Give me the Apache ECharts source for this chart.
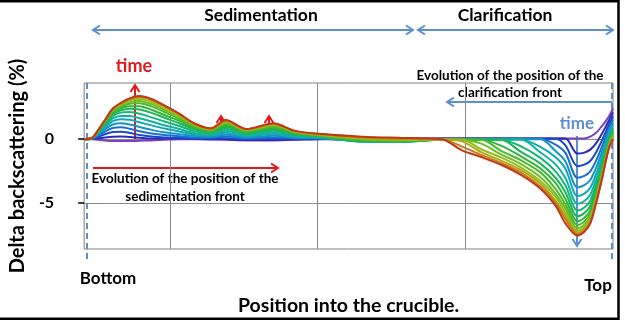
<!DOCTYPE html>
<html>
<head>
<meta charset="utf-8">
<script src="https://cdn.jsdelivr.net/npm/echarts@6/dist/echarts.min.js"></script>
<style>
  html, body { margin: 0; padding: 0; background: #fff; }
  #chart { width: 625px; height: 324px; }
</style>
</head>
<body>
<div id="chart"></div>
<script>
// position along the crucible (mm), shared by every scan
const position = [4.2, 4.74, 5.14, 5.61, 6.14, 6.68, 7.28, 7.95, 8.76, 9.63, 10.64, 11.64,
  12.78, 13.79, 15.19, 17.0, 18.48, 20.36, 23.04, 25.72, 28.4,
  29.74, 31.08, 32.42, 33.77, 35.11, 36.11, 36.78,
  37.59, 38.06, 38.46, 38.86, 39.2, 39.46, 39.73, 40.0];

// delta backscattering (%) scans, first to last
const scan01 = [0, 0, -0.05, -0.1, -0.15, -0.15, -0.15, -0.12, -0.1, -0.05, 0, 0,
  -0.02, -0.05, -0.1, -0.1, -0.05, 0, 0, 0.05, 0.05,
  0.05, 0.05, 0.05, 0.05, 0.05, 0.05, 0.05,
  0.05, 0.05, 0.2, 0.5, 0.96, 1.34, 1.8, 2.4];
const scan02 = [0, 0.02, 0.07, 0.14, 0.2, 0.22, 0.17, 0.11, 0.05, 0.05, 0.05, 0.03,
  0, -0.01, -0.07, -0.06, -0.03, 0.02, -0.05, -0.02, 0.05,
  0.05, 0.05, 0.05, 0.05, 0.05, 0.05, 0.05,
  -1.13, -1.05, -0.82, -0.31, 0.33, 0.88, 1.48, 2.1];
const scan03 = [0, 0.04, 0.17, 0.39, 0.56, 0.59, 0.49, 0.33, 0.21, 0.14, 0.11, 0.06,
  0.06, 0.08, -0.01, 0.03, 0.01, 0.03, -0.08, -0.05, 0.04,
  0.04, 0.04, 0.04, 0.04, 0.04, 0.04, -0.49,
  -2.11, -1.99, -1.71, -1.02, -0.23, 0.45, 1.15, 1.8];
const scan04 = [0, 0.05, 0.27, 0.59, 0.87, 0.94, 0.82, 0.62, 0.44, 0.32, 0.23, 0.13,
  0.13, 0.21, 0.07, 0.14, 0.07, 0.06, -0.12, -0.1, 0.02,
  0.02, 0.02, 0.02, 0.02, 0.02, -0.42, -1.07,
  -3.02, -2.87, -2.52, -1.67, -0.74, 0.07, 0.88, 1.55];
const scan05 = [0, 0.06, 0.35, 0.78, 1.15, 1.25, 1.15, 0.95, 0.73, 0.54, 0.39, 0.24,
  0.2, 0.35, 0.15, 0.26, 0.13, 0.08, -0.15, -0.15, 0,
  0, 0, 0, 0, 0, -0.93, -1.74,
  -3.78, -3.6, -3.2, -2.23, -1.18, -0.27, 0.63, 1.3];
const scan06 = [0, 0.07, 0.44, 0.94, 1.41, 1.57, 1.52, 1.32, 1.08, 0.84, 0.61, 0.37,
  0.29, 0.51, 0.24, 0.4, 0.21, 0.11, -0.18, -0.2, -0.02,
  -0.02, -0.02, -0.02, -0.02, -0.62, -1.42, -2.31,
  -4.45, -4.26, -3.8, -2.72, -1.57, -0.56, 0.42, 1.1];
const scan07 = [0, 0.08, 0.49, 1.06, 1.63, 1.82, 1.82, 1.64, 1.38, 1.09, 0.8, 0.49,
  0.37, 0.66, 0.33, 0.53, 0.27, 0.14, -0.2, -0.22, -0.03,
  -0.03, -0.03, -0.03, -0.03, -1.06, -1.97, -3.04,
  -5.06, -4.84, -4.35, -3.16, -1.92, -0.84, 0.21, 0.9];
const scan08 = [0, 0.09, 0.55, 1.17, 1.82, 2.08, 2.12, 1.99, 1.71, 1.38, 1.03, 0.63,
  0.46, 0.82, 0.41, 0.66, 0.35, 0.17, -0.18, -0.2, -0.04,
  -0.04, -0.04, -0.04, -0.56, -1.48, -2.52, -3.63,
  -5.59, -5.35, -4.82, -3.54, -2.22, -1.06, 0.04, 0.75];
const scan09 = [0, 0.1, 0.59, 1.25, 1.97, 2.26, 2.39, 2.32, 2.06, 1.68, 1.25, 0.78,
  0.54, 0.95, 0.49, 0.78, 0.41, 0.2, -0.15, -0.18, -0.05,
  -0.05, -0.05, -0.05, -1.0, -1.93, -3.02, -4.17,
  -6.04, -5.79, -5.23, -3.87, -2.48, -1.26, -0.11, 0.6];
const scan10 = [0, 0.1, 0.63, 1.33, 2.08, 2.42, 2.58, 2.58, 2.31, 1.89, 1.43, 0.9,
  0.61, 1.07, 0.56, 0.88, 0.46, 0.23, -0.1, -0.15, -0.05,
  -0.05, -0.05, -0.51, -1.35, -2.31, -3.43, -4.69,
  -6.42, -6.15, -5.57, -4.15, -2.7, -1.43, -0.24, 0.48];
const scan11 = [0, 0.1, 0.64, 1.39, 2.18, 2.53, 2.77, 2.81, 2.57, 2.13, 1.6, 1.01,
  0.67, 1.18, 0.62, 0.98, 0.51, 0.26, -0.05, -0.12, -0.05,
  -0.05, -0.05, -0.91, -1.65, -2.62, -3.9, -5.11,
  -6.72, -6.44, -5.84, -4.37, -2.88, -1.57, -0.33, 0.38];
const scan12 = [0, 0.1, 0.67, 1.42, 2.25, 2.63, 2.9, 3.0, 2.75, 2.29, 1.74, 1.09,
  0.73, 1.29, 0.69, 1.08, 0.56, 0.29, 0, -0.08, -0.04,
  -0.04, -0.35, -1.19, -1.95, -3.0, -4.26, -5.44,
  -6.98, -6.7, -6.09, -4.57, -3.04, -1.69, -0.44, 0.28];
const scan13 = [0, 0.1, 0.67, 1.44, 2.3, 2.72, 3.04, 3.14, 2.91, 2.43, 1.82, 1.15,
  0.77, 1.35, 0.72, 1.13, 0.59, 0.32, 0.05, -0.04, -0.03,
  -0.03, -0.79, -1.43, -2.22, -3.3, -4.52, -5.74,
  -7.17, -6.89, -6.25, -4.71, -3.15, -1.79, -0.52, 0.2];
const scan14 = [0, 0.1, 0.69, 1.44, 2.33, 2.76, 3.12, 3.28, 3.05, 2.56, 1.94, 1.21,
  0.8, 1.41, 0.75, 1.18, 0.61, 0.35, 0.1, 0, -0.02,
  -0.15, -1.02, -1.68, -2.42, -3.51, -4.83, -6.0,
  -7.32, -7.03, -6.39, -4.82, -3.25, -1.87, -0.59, 0.12];
const scan15 = [0, 0.1, 0.7, 1.47, 2.37, 2.81, 3.17, 3.34, 3.11, 2.61, 1.97, 1.24,
  0.82, 1.46, 0.78, 1.21, 0.63, 0.38, 0.15, 0.05, -0.01,
  -0.56, -1.23, -1.86, -2.61, -3.73, -4.99, -6.26,
  -7.45, -7.16, -6.51, -4.93, -3.34, -1.94, -0.64, 0.06];
const scan16 = [0, 0.1, 0.7, 1.5, 2.4, 2.85, 3.2, 3.38, 3.15, 2.65, 2.0, 1.25,
  0.85, 1.5, 0.8, 1.25, 0.65, 0.4, 0.2, 0.1, 0,
  -0.85, -1.4, -2.0, -2.8, -3.9, -5.2, -6.6,
  -7.55, -7.25, -6.6, -5.0, -3.4, -2.0, -0.7, 0];

const scans = [scan01, scan02, scan03, scan04, scan05, scan06, scan07, scan08,
  scan09, scan10, scan11, scan12, scan13, scan14, scan15, scan16];

const yTicks = [0, -5];
const xGridLines = [10, 20, 30];

const scanColors = ['#7b3fbf', '#2a2ab8', '#1c47c8', '#1a6fd0', '#1592c8', '#10a8b8', '#12b39a', '#16b577',
  '#1fb455', '#2fb53a', '#4cb82c', '#6cbc22', '#92bd1c', '#b0a818', '#c87a14', '#c0391a'];

const BLUE = '#5b8fd0';
const RED = '#e3191c';
const FONT = 'Lato, "Open Sans", sans-serif';

const chart = echarts.init(document.getElementById('chart'));

function arrow(x1, y1, x2, y2, color, both) {
  const out = [{type: 'line', shape: {x1, y1, x2, y2}, style: {stroke: color, lineWidth: 2}}];
  const head = (tx, ty, fx, fy) => {
    const len = Math.hypot(tx - fx, ty - fy);
    const dx = (tx - fx) / len, dy = (ty - fy) / len;
    const bx = tx - 7 * dx, by = ty - 7 * dy;
    return {
      type: 'polyline',
      shape: {points: [[bx - 4.5 * dy, by + 4.5 * dx], [tx, ty], [bx + 4.5 * dy, by - 4.5 * dx]]},
      style: {stroke: color, lineWidth: 2, fill: null}
    };
  };
  out.push(head(x2, y2, x1, y1));
  if (both) out.push(head(x1, y1, x2, y2));
  return out;
}

function label(x, y, text, size, color) {
  return {
    type: 'text', x, y,
    style: {text, font: 'bold ' + size + 'px ' + FONT, fill: color || '#000', align: 'center', verticalAlign: 'middle'}
  };
}

const graphics = [
  {type: 'rect', shape: {x: -5, y: 1.2, width: 623.5, height: 317.6}, style: {stroke: '#000', lineWidth: 2.5, fill: null}},
  {type: 'line', shape: {x1: 87, y1: 83, x2: 87, y2: 260}, style: {stroke: BLUE, lineWidth: 2, lineDash: [6, 4]}},
  {type: 'line', shape: {x1: 612, y1: 83, x2: 612, y2: 260}, style: {stroke: BLUE, lineWidth: 2, lineDash: [6, 4]}},
  ...arrow(93, 30, 413, 30, BLUE, true),
  ...arrow(418, 30, 613, 30, BLUE, true),
  ...arrow(612, 102, 447, 102, BLUE),
  ...arrow(577, 136, 577, 246, BLUE),
  ...arrow(135, 139, 135, 85, RED),
  ...arrow(221, 139, 221, 116, RED),
  ...arrow(269, 139, 269, 116, RED),
  ...arrow(93, 168, 278, 168, RED),
  label(261, 15, 'Sedimentation', 17.5),
  label(505, 15, 'Clarification', 17.5),
  label(134, 66, 'time', 18, RED),
  label(577, 124, 'time', 17, BLUE),
  label(510, 76, 'Evolution of the position of the', 13.5),
  label(510, 93, 'clarification front', 13.5),
  label(185, 179, 'Evolution of the position of the', 13.5),
  label(185, 197, 'sedimentation front', 13.5),
  label(108, 279, 'Bottom', 17),
  label(598, 286, 'Top', 17)
];

const series = scans.map((scan, i) => ({
  type: 'line',
  data: position.map((x, j) => [x, scan[j]]),
  smooth: 0.3,
  symbol: 'none',
  silent: true,
  z: 2,
  lineStyle: {color: scanColors[i], width: 2}
}));

series[0].markLine = {
  silent: true,
  symbol: 'none',
  z: 1,
  label: {show: false},
  lineStyle: {color: '#8c8c8c', width: 1, type: 'solid'},
  data: [...xGridLines.map(v => ({xAxis: v})), ...yTicks.map(v => ({yAxis: v}))]
};

chart.setOption({
  animation: false,
  grid: {left: 79, top: 83, right: 12, bottom: 75, show: true, borderColor: '#808080', borderWidth: 1},
  xAxis: {
    type: 'value',
    min: 4.2,
    max: 40,
    name: 'Position into the crucible.',
    nameLocation: 'middle',
    nameGap: 47,
    nameTextStyle: {fontFamily: FONT, fontWeight: 'bold', fontSize: 19.5, color: '#000'},
    axisLine: {show: false, onZero: false},
    axisTick: {show: false},
    axisLabel: {show: false},
    splitLine: {show: false}
  },
  yAxis: {
    type: 'value',
    min: -8.6,
    max: 4.4,
    name: 'Delta backscattering (%)',
    nameLocation: 'middle',
    nameGap: 56,
    nameTextStyle: {fontFamily: FONT, fontWeight: 'bold', fontSize: 20, color: '#000'},
    axisLine: {show: false},
    axisTick: {show: true, customValues: yTicks, length: 6, lineStyle: {color: '#000', width: 1.5}},
    axisLabel: {customValues: yTicks, margin: 30, fontFamily: FONT, fontWeight: 'bold', fontSize: 16, color: '#000'},
    splitLine: {show: false}
  },
  series,
  graphic: graphics
});
</script>
</body>
</html>
